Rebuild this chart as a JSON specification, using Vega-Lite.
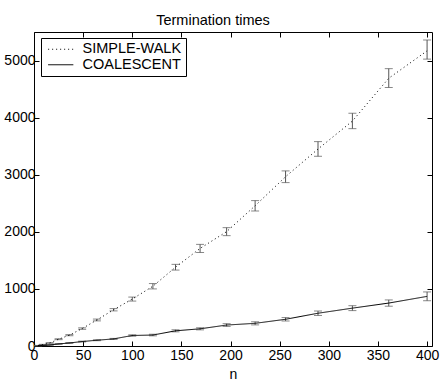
{
  "$schema": "https://vega.github.io/schema/vega-lite/v6.json",
  "width": 398,
  "height": 314,
  "autosize": {"type": "none"},
  "padding": {"left": 34, "top": 32, "right": 11, "bottom": 40},
  "background": "white",
  "title": {"text": "Termination times", "font": "Liberation Sans", "fontSize": 14.5, "fontWeight": "normal", "color": "black", "offset": 3, "dx": -20},
  "config": {
    "view": {"stroke": "black", "strokeWidth": 1},
    "axis": {"domain": false, "grid": false, "tickColor": "black", "tickSize": -5, "labelFont": "Liberation Sans", "labelFontSize": 14, "labelColor": "black", "titleFont": "Liberation Sans", "titleFontSize": 14, "titleFontWeight": "normal", "titleColor": "black", "format": "d"},
    "legend": {"labelFont": "Liberation Sans", "labelFontSize": 14.5, "labelColor": "black"}
  },
  "data": {"values": [
    {"series": "SIMPLE-WALK", "n": 4, "mean": 8, "lo": 6, "hi": 10},
    {"series": "SIMPLE-WALK", "n": 9, "mean": 25, "lo": 21, "hi": 29},
    {"series": "SIMPLE-WALK", "n": 16, "mean": 53, "lo": 48, "hi": 58},
    {"series": "SIMPLE-WALK", "n": 25, "mean": 119, "lo": 111, "hi": 127},
    {"series": "SIMPLE-WALK", "n": 36, "mean": 190, "lo": 180, "hi": 200},
    {"series": "SIMPLE-WALK", "n": 49, "mean": 305, "lo": 292, "hi": 318},
    {"series": "SIMPLE-WALK", "n": 64, "mean": 456, "lo": 440, "hi": 472},
    {"series": "SIMPLE-WALK", "n": 81, "mean": 635, "lo": 615, "hi": 655},
    {"series": "SIMPLE-WALK", "n": 100, "mean": 822, "lo": 787, "hi": 857},
    {"series": "SIMPLE-WALK", "n": 121, "mean": 1047, "lo": 1000, "hi": 1094},
    {"series": "SIMPLE-WALK", "n": 144, "mean": 1380, "lo": 1330, "hi": 1430},
    {"series": "SIMPLE-WALK", "n": 169, "mean": 1709, "lo": 1638, "hi": 1780},
    {"series": "SIMPLE-WALK", "n": 196, "mean": 2003, "lo": 1933, "hi": 2073},
    {"series": "SIMPLE-WALK", "n": 225, "mean": 2456, "lo": 2365, "hi": 2547},
    {"series": "SIMPLE-WALK", "n": 256, "mean": 2965, "lo": 2862, "hi": 3067},
    {"series": "SIMPLE-WALK", "n": 289, "mean": 3450, "lo": 3323, "hi": 3580},
    {"series": "SIMPLE-WALK", "n": 324, "mean": 3940, "lo": 3807, "hi": 4077},
    {"series": "SIMPLE-WALK", "n": 361, "mean": 4690, "lo": 4528, "hi": 4858},
    {"series": "SIMPLE-WALK", "n": 400, "mean": 5170, "lo": 5025, "hi": 5360},
    {"series": "COALESCENT", "n": 4, "mean": 4, "lo": 2, "hi": 6},
    {"series": "COALESCENT", "n": 9, "mean": 10, "lo": 7, "hi": 13},
    {"series": "COALESCENT", "n": 16, "mean": 18, "lo": 14, "hi": 22},
    {"series": "COALESCENT", "n": 25, "mean": 36, "lo": 31, "hi": 41},
    {"series": "COALESCENT", "n": 36, "mean": 53, "lo": 47, "hi": 59},
    {"series": "COALESCENT", "n": 49, "mean": 78, "lo": 71, "hi": 85},
    {"series": "COALESCENT", "n": 64, "mean": 101, "lo": 93, "hi": 109},
    {"series": "COALESCENT", "n": 81, "mean": 124, "lo": 115, "hi": 133},
    {"series": "COALESCENT", "n": 100, "mean": 184, "lo": 172, "hi": 196},
    {"series": "COALESCENT", "n": 121, "mean": 192, "lo": 178, "hi": 206},
    {"series": "COALESCENT", "n": 144, "mean": 266, "lo": 248, "hi": 284},
    {"series": "COALESCENT", "n": 169, "mean": 301, "lo": 283, "hi": 319},
    {"series": "COALESCENT", "n": 196, "mean": 367, "lo": 343, "hi": 391},
    {"series": "COALESCENT", "n": 225, "mean": 397, "lo": 370, "hi": 424},
    {"series": "COALESCENT", "n": 256, "mean": 468, "lo": 438, "hi": 498},
    {"series": "COALESCENT", "n": 289, "mean": 574, "lo": 535, "hi": 613},
    {"series": "COALESCENT", "n": 324, "mean": 663, "lo": 620, "hi": 706},
    {"series": "COALESCENT", "n": 361, "mean": 752, "lo": 697, "hi": 807},
    {"series": "COALESCENT", "n": 400, "mean": 869, "lo": 793, "hi": 947}
  ]},
  "resolve": {"axis": {"x": "independent", "y": "independent"}},
  "layer": [
    {
      "mark": {"type": "rule", "color": "#555", "strokeWidth": 1},
      "encoding": {
        "x": {"field": "n", "type": "quantitative", "scale": {"domain": [0, 405], "nice": false},
              "axis": {"orient": "bottom", "values": [0, 50, 100, 150, 200, 250, 300, 350, 400], "title": "n", "labelPadding": 7, "titlePadding": 5, "labelFlush": false}},
        "y": {"field": "lo", "type": "quantitative", "scale": {"domain": [0, 5500], "nice": false},
              "axis": {"orient": "left", "values": [0, 1000, 2000, 3000, 4000, 5000], "title": null, "labelPadding": 4, "labelFlush": false}},
        "y2": {"field": "hi"}
      }
    },
    {
      "mark": {"type": "tick", "orient": "horizontal", "color": "#555", "size": 8, "thickness": 1},
      "encoding": {
        "x": {"field": "n", "type": "quantitative", "axis": {"orient": "top", "values": [0, 50, 100, 150, 200, 250, 300, 350, 400], "labels": false, "title": null}},
        "y": {"field": "lo", "type": "quantitative", "axis": {"orient": "right", "values": [0, 1000, 2000, 3000, 4000, 5000], "labels": false, "title": null}}
      }
    },
    {
      "mark": {"type": "tick", "orient": "horizontal", "color": "#555", "size": 8, "thickness": 1},
      "encoding": {
        "x": {"field": "n", "type": "quantitative", "axis": null},
        "y": {"field": "hi", "type": "quantitative", "axis": null}
      }
    },
    {
      "mark": {"type": "line", "color": "black", "strokeWidth": 1},
      "encoding": {
        "x": {"field": "n", "type": "quantitative", "axis": null},
        "y": {"field": "mean", "type": "quantitative", "axis": null},
        "strokeDash": {"field": "series", "type": "nominal",
          "scale": {"domain": ["SIMPLE-WALK", "COALESCENT"], "range": [[1, 3], [1, 0]]},
          "legend": {"title": null, "orient": "none", "legendX": 7, "legendY": 6, "padding": 4, "strokeColor": "black", "fillColor": "white", "symbolType": "M-2.1,0H2.1", "symbolSize": 144, "symbolStrokeColor": "black", "symbolStrokeWidth": 1, "labelOffset": 14.5, "symbolOffset": 8.5, "rowPadding": 0.5}}
      }
    }
  ]
}
